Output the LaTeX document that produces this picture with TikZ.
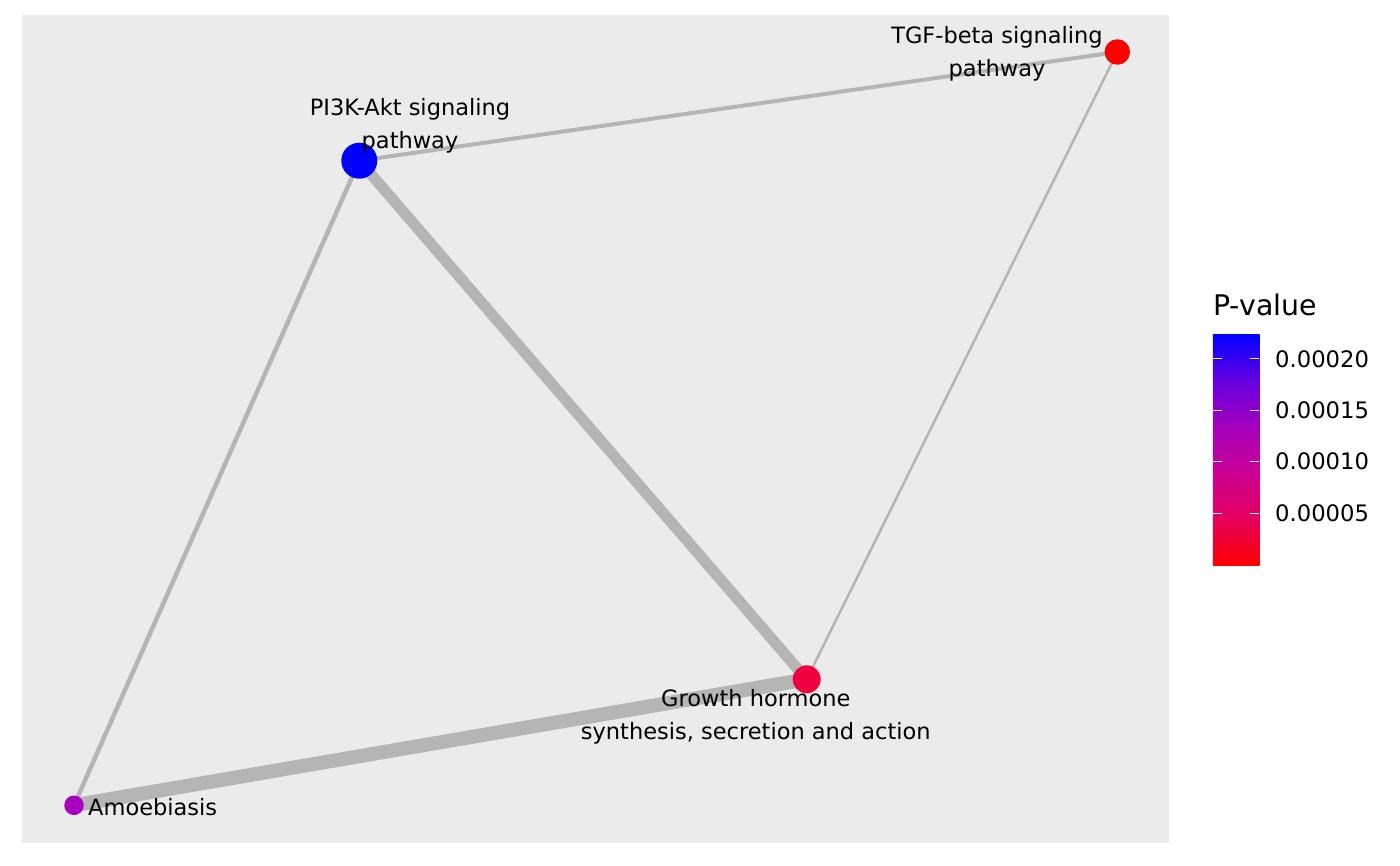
\documentclass[tikz,border=0pt]{standalone}
\usepackage{fontspec}
\setmainfont{DejaVu Sans}
\definecolor{panelbg}{HTML}{EBEBEB}
\definecolor{edgegrey}{HTML}{B5B5B5}
\definecolor{cPI}{RGB}{0,0,255}
\definecolor{cTGF}{RGB}{255,0,0}
\definecolor{cGH}{RGB}{240,0,62}
\definecolor{cAM}{RGB}{168,0,190}
\pgfdeclareverticalshading{pvalbar}{100bp}{%
  rgb(0bp)=(1,0,0);
  rgb(25bp)=(1,0,0);
  rgb(35bp)=(0.90,0,0.36);
  rgb(45bp)=(0.80,0,0.58);
  rgb(55bp)=(0.64,0,0.74);
  rgb(65bp)=(0.40,0,0.88);
  rgb(75bp)=(0,0,1);
  rgb(100bp)=(0,0,1)}
\begin{document}
\begin{tikzpicture}[x=1pt,y=-1pt,
  edge/.style={draw=edgegrey,line cap=butt},
  vnode/.style={circle,inner sep=0pt,draw=none},
  lbl/.style={font=\fontsize{22.5}{32.5}\selectfont,align=center,inner sep=0pt,text=black},
  ticklbl/.style={font=\fontsize{22.7}{27}\selectfont,anchor=west,inner sep=0pt},
  tickmark/.style={draw=white,line width=1pt}]
\useasboundingbox (0,0) rectangle (1400,866);
\fill[panelbg] (22,15) rectangle (1169,843);
% vertices (positions)
\coordinate (pP) at (359.3,160.7);
\coordinate (pT) at (1117.3,52);
\coordinate (pG) at (806.7,679.3);
\coordinate (pA) at (74,805.3);
% edges
\draw[edge,line width=11pt] (pP) -- (pG);
\draw[edge,line width=14pt] (pG) -- (pA);
\draw[edge,line width=4.5pt] (pP) -- (pA);
\draw[edge,line width=4pt] (pP) -- (pT);
\draw[edge,line width=2.5pt] (pT) -- (pG);
% nodes
\node[vnode,fill=cPI,minimum size=36pt] (PI) at (pP) {};
\node[vnode,fill=cTGF,minimum size=25.5pt] (TGF) at (pT) {};
\node[vnode,fill=cGH,minimum size=28pt] (GH) at (pG) {};
\node[vnode,fill=cAM,minimum size=19.5pt] (AM) at (pA) {};
% labels
\node[lbl] (lPI) at (410,125.9) {PI3K-Akt signaling\\pathway};
\node[lbl] (lTGF) at (997,53.9) {TGF-beta signaling\\pathway};
\node[lbl] (lGH) at (755.8,716.9) {Growth hormone\\synthesis, secretion and action};
\node[lbl,anchor=base west] (lAM) at (88,815) {Amoebiasis};
% legend
\node[font=\fontsize{28.4}{34}\selectfont,anchor=base west,inner sep=0pt] (ltitle) at (1213,316) {P-value};
\node[inner sep=0pt,minimum width=46.6pt,minimum height=230.7pt,shading=pvalbar,anchor=north west] (bar) at (1212.7,334.3) {};
\foreach \yy/\tt in {359/0.00020,410.7/0.00015,461.7/0.00010,513.3/0.00005}{
  \draw[tickmark] (1212.7,\yy) -- (1222,\yy);
  \draw[tickmark] (1250,\yy) -- (1259.3,\yy);
  \node[ticklbl] at (1275,\yy) {\tt};
}
\end{tikzpicture}
\end{document}
